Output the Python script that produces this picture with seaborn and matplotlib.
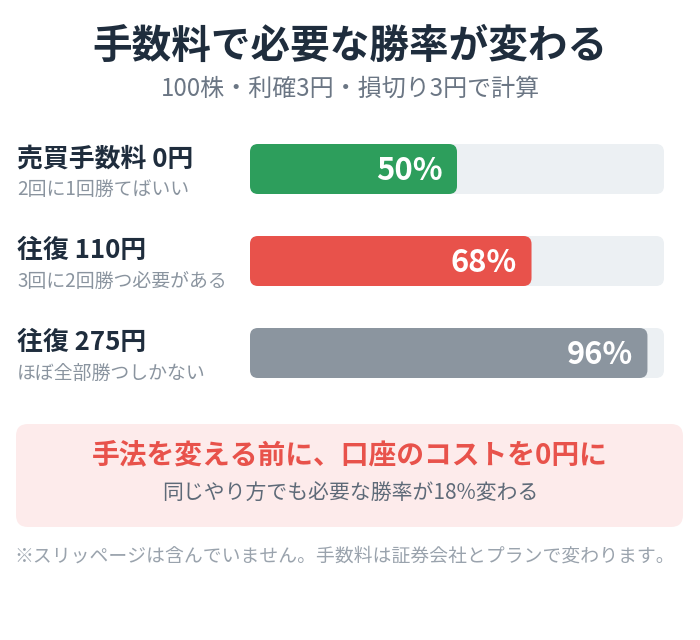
import matplotlib
matplotlib.use("Agg")
import matplotlib.pyplot as plt
from matplotlib.patches import FancyBboxPatch, Rectangle
import seaborn as sns

# ---- data ----
title = "手数料で必要な勝率が変わる"
subtitle = "100株・利確3円・損切り3円で計算"
labels = ["売買手数料 0円", "往復 110円", "往復 275円"]
sublabels = ["2回に1回勝てばいい", "3回に2回勝つ必要がある", "ほぼ全部勝つしかない"]
values = [50, 68, 96]
track_max = [100, 100, 100]
bar_colors = ["#2D9E5C", "#E8524B", "#8B959F"]
callout_title = "手法を変える前に、口座のコストを0円に"
callout_sub = "同じやり方でも必要な勝率が18%変わる"
footnote = "※スリッページは含んでいません。手数料は証券会社とプランで変わります。"

TRACK = "#ECF0F3"
DARK = "#1F2D3D"
MUTED = "#8A949F"

sns.set_theme(style="white")
plt.rcParams["font.family"] = ["Noto Sans CJK JP", "DejaVu Sans"]

W, H = 700, 640
fig = plt.figure(figsize=(W / 100, H / 100), dpi=100)
fig.patch.set_facecolor("white")

# background axes in pixel coordinates
bg = fig.add_axes([0, 0, 1, 1], zorder=0)
bg.set_xlim(0, W)
bg.set_ylim(H, 0)
bg.axis("off")

# bar axes
x0, x1 = 250, 664
yc0, step = 169, 92
top_px = yc0 - step / 2
bot_px = top_px + step * 3
ax = fig.add_axes([x0 / W, (H - bot_px) / H, (x1 - x0) / W, (bot_px - top_px) / H], zorder=1)
ax.patch.set_alpha(0)

bar_h = 50 / step
sns.barplot(x=track_max, y=labels, color=TRACK, width=bar_h, orient="h", ax=ax,
            saturation=1)
sns.barplot(x=values, y=labels, hue=labels, palette=bar_colors, width=bar_h,
            orient="h", ax=ax, legend=False, saturation=1)
ax.set_xlim(0, 100)
ax.set_ylim(2.5, -0.5)
ax.axis("off")

# round the bar corners
rad_px = 8
ux = 100 / (x1 - x0)   # x data units per px
uy = 3 / (bot_px - top_px)  # y data units per px
for p in list(ax.patches):
    if not isinstance(p, Rectangle):
        continue
    x, y, w, h = p.get_x(), p.get_y(), p.get_width(), p.get_height()
    fc = p.get_facecolor()
    z = p.get_zorder()
    p.remove()
    ax.add_patch(FancyBboxPatch((x, y), w, h,
                                boxstyle=f"round,pad=0,rounding_size={rad_px * ux}",
                                mutation_aspect=uy / ux, facecolor=fc,
                                edgecolor="none", zorder=z))

for i, v in enumerate(values):
    ax.annotate(f"{v}%", xy=(v, i), xytext=(-10.5, -1.5), textcoords="offset points",
                ha="right", va="center", color="white", fontsize=22.3,
                fontweight="bold")

# titles
bg.text(350, 46, title, ha="center", va="center", fontsize=28.5,
        fontweight="bold", color=DARK)
bg.text(350, 89, subtitle, ha="center", va="center", fontsize=17.3,
        color="#6B7684")

# left labels
for i, (lab, sub) in enumerate(zip(labels, sublabels)):
    yc = 159 + i * step
    bg.text(17, yc, lab, ha="left", va="center", fontsize=18.6,
            fontweight="bold", color=DARK)
    bg.text(17, yc + 30, sub, ha="left", va="center", fontsize=13.6,
            color=MUTED)

# callout box
bg.add_patch(FancyBboxPatch((16, 424), 667, 103,
                            boxstyle="round,pad=0,rounding_size=12",
                            facecolor="#FDEBEB", edgecolor="none"))
bg.text(350, 455, callout_title, ha="center", va="center", fontsize=20,
        fontweight="bold", color="#E8524B")
bg.text(350, 494, callout_sub, ha="center", va="center", fontsize=15,
        color="#5E6A78")

bg.text(345, 556, footnote, ha="center", va="center", fontsize=13.55,
        color="#9AA3AD")

fig.savefig("out.png", dpi=100)
